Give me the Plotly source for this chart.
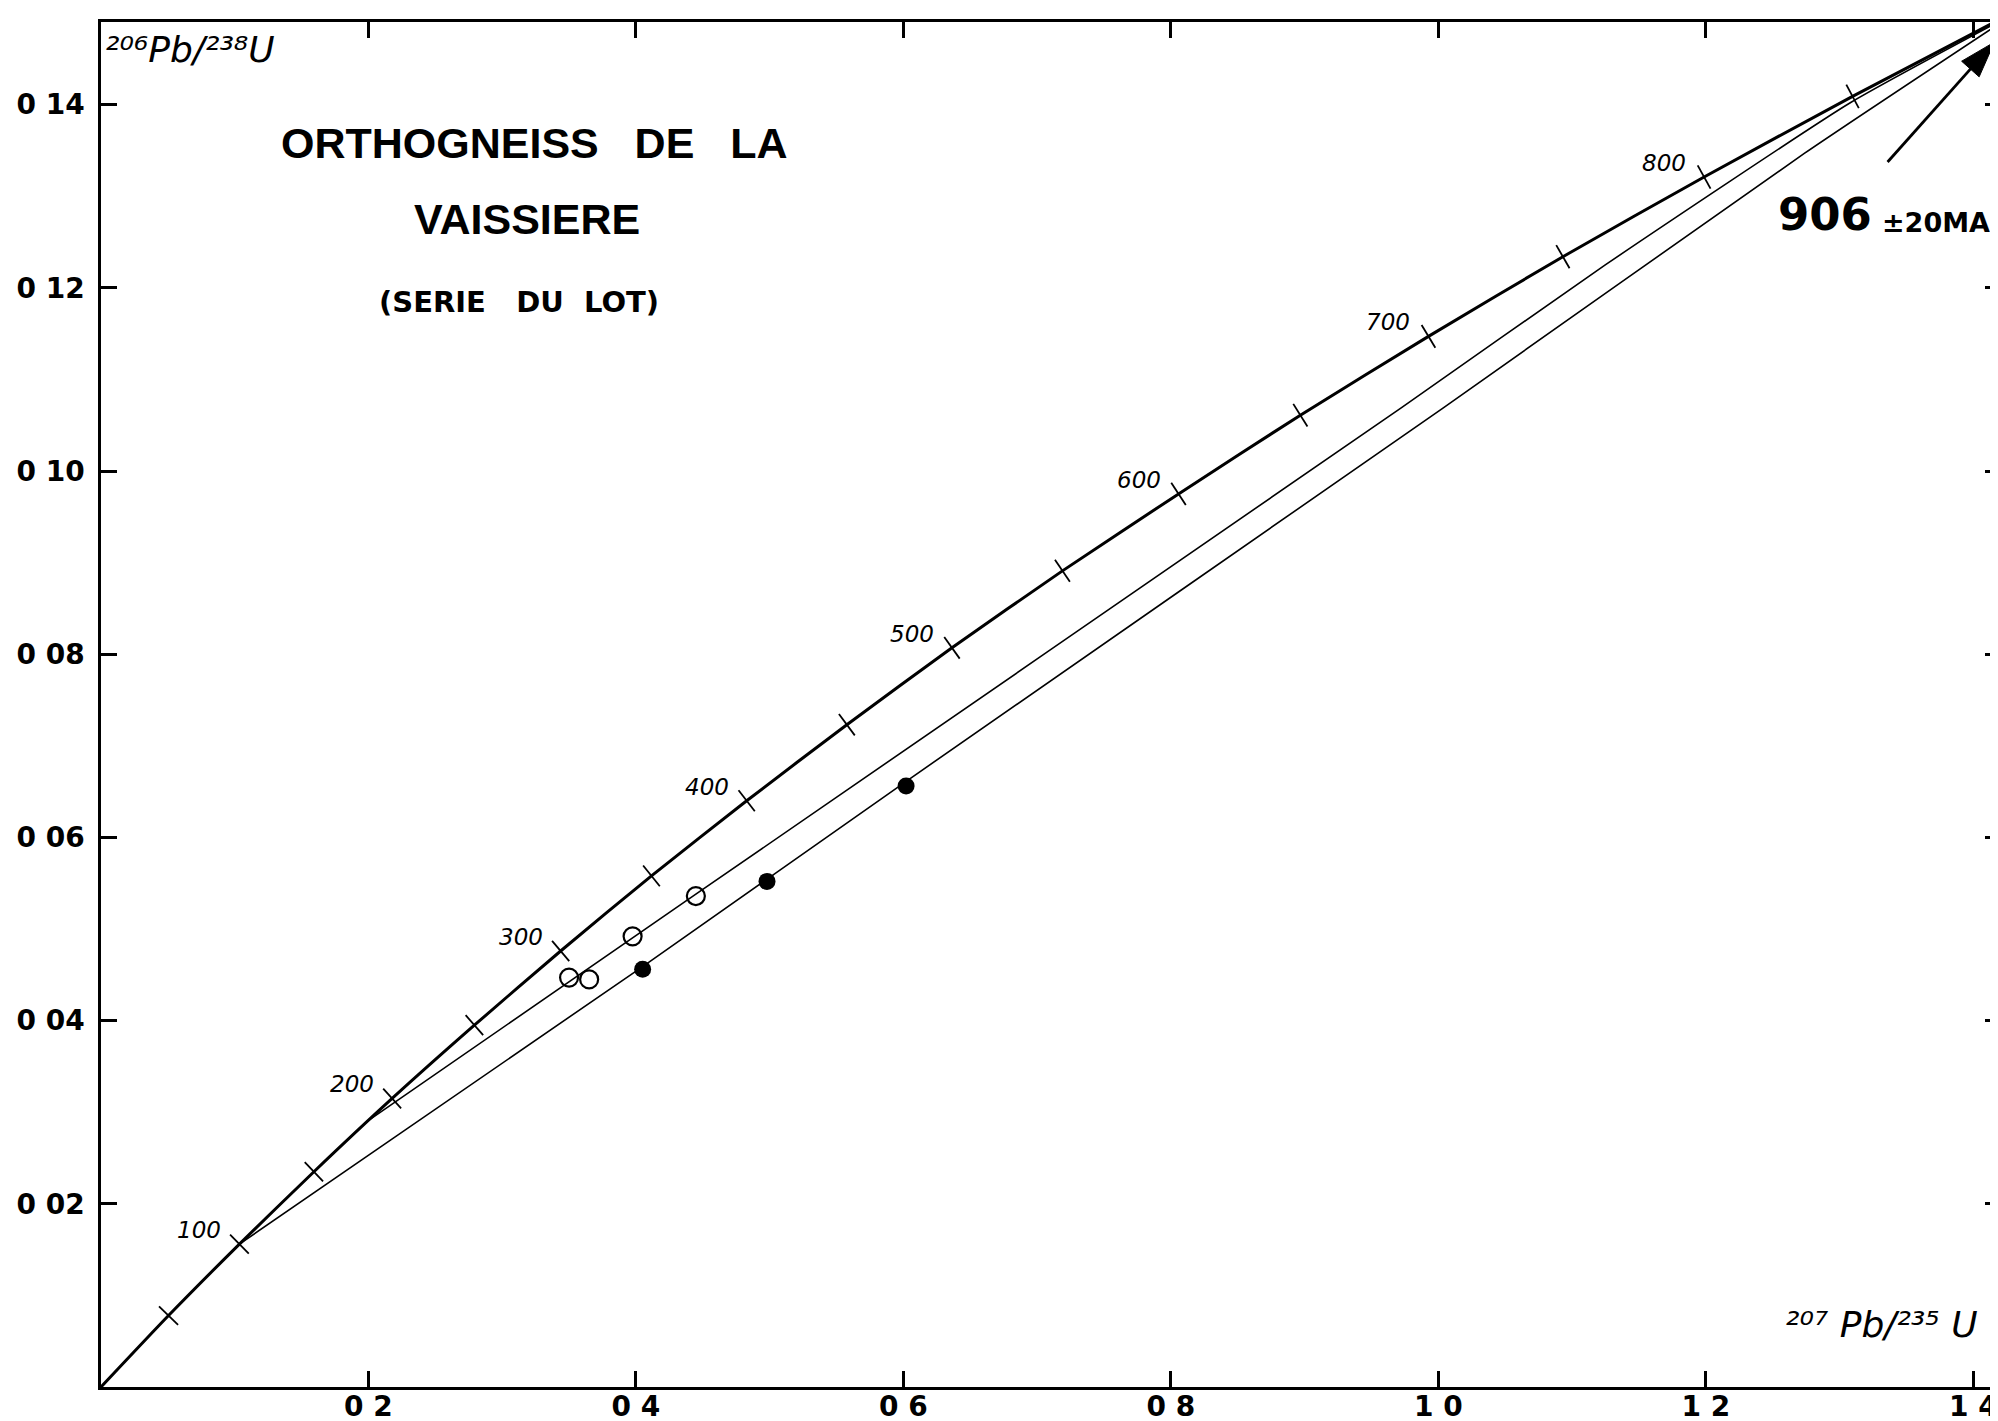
import math
import plotly.graph_objects as go

# ---------------- data ----------------
# Concordia curve: ages (Ma) and the ratios at each 50 Ma tick
conc_age = [0, 50, 100, 150, 200, 250, 300, 350, 400, 450, 500, 550, 600,
            650, 700, 750, 800, 850, 900]
conc_x = [0.0, 0.0505, 0.1035, 0.1592, 0.2177, 0.2792, 0.3437, 0.4116, 0.4828,
          0.5577, 0.6363, 0.7189, 0.8057, 0.8968, 0.9926, 1.0931, 1.1987,
          1.3097, 1.4262]
conc_y = [0.0, 0.0078, 0.0156, 0.0235, 0.0315, 0.0395, 0.0476, 0.0558, 0.0640,
          0.0723, 0.0807, 0.0891, 0.0975, 0.1061, 0.1147, 0.1234, 0.1321,
          0.1409, 0.1498]
tick_ages = [50, 100, 150, 200, 250, 300, 350, 400, 450, 500, 550, 600, 650,
             700, 750, 800, 850]
label_ages = [100, 200, 300, 400, 500, 600, 700, 800]

# Discordia through the open circles
mid_x = [0.199, 0.4448, 0.9722, 1.1248, 1.308, 1.421]
mid_y = [0.0290, 0.0538, 0.1069, 0.1225, 0.1402, 0.1492]
# Discordia through the filled circles
low_x = [0.1035, 0.405, 0.6018, 1.0037, 1.2739, 1.421]
low_y = [0.0156, 0.0459, 0.0661, 0.1069, 0.1347, 0.1490]

# Analysed fractions
open_x = [0.350, 0.365, 0.3975, 0.4448]
open_y = [0.0447, 0.0445, 0.0492, 0.0536]
fill_x = [0.405, 0.498, 0.602]
fill_y = [0.0456, 0.0552, 0.0656]

# Arrow pointing at the upper intercept (tail, tip)
arrow_x = [1.3359, 1.4158]
arrow_y = [0.13373, 0.14683]

# Axes
x_tickvals = [0.2, 0.4, 0.6, 0.8, 1.0, 1.2, 1.4]
x_ticktext = ["0 2", "0 4", "0 6", "0 8", "1 0", "1 2", "1 4"]
y_tickvals = [0.02, 0.04, 0.06, 0.08, 0.10, 0.12, 0.14]
y_ticktext = ["0 02", "0 04", "0 06", "0 08", "0 10", "0 12", "0 14"]
x_range = [0.0, 1.4207]
y_range = [0.0, 0.14902]

y_title = "\u00b2\u2070\u2076Pb/\u00b2\u00b3\u2078U"
x_title = "\u00b2\u2070\u2077 Pb/\u00b2\u00b3\u2075 U"
title_lines = ["ORTHOGNEISS\u00a0\u00a0\u00a0DE\u00a0\u00a0\u00a0LA", "VAISSIERE",
               "(SERIE\u00a0\u00a0\u00a0DU\u00a0\u00a0LOT)"]
age_text = "906"
age_err = "\u00b120MA"

# ---------------- layout geometry ----------------
W, H = 1998, 1421
ML, MR, MT, MB = 93, 2, 14, 42
pw, ph = W - ML - MR, H - MT - MB
pxx = pw / (x_range[1] - x_range[0])
pxy = ph / (y_range[1] - y_range[0])

fig = go.Figure()

# concordia
fig.add_trace(go.Scatter(x=conc_x, y=conc_y, mode="lines",
                         line=dict(color="black", width=3, shape="spline", smoothing=0.6),
                         hoverinfo="skip", showlegend=False))
# discordia lines
fig.add_trace(go.Scatter(x=mid_x, y=mid_y, mode="lines",
                         line=dict(color="black", width=1.6, shape="spline", smoothing=0.5),
                         hoverinfo="skip", showlegend=False))
fig.add_trace(go.Scatter(x=low_x, y=low_y, mode="lines",
                         line=dict(color="black", width=1.6, shape="spline", smoothing=0.5),
                         hoverinfo="skip", showlegend=False))

# tick marks on the concordia (perpendicular to the curve)
tx, ty, tang = [], [], []
for a in tick_ages:
    i = conc_age.index(a)
    dxp = (conc_x[i + 1] - conc_x[i - 1]) * pxx
    dyp = (conc_y[i + 1] - conc_y[i - 1]) * pxy
    alpha = math.degrees(math.atan2(dyp, dxp))
    tx.append(conc_x[i])
    ty.append(conc_y[i])
    tang.append(-alpha)
fig.add_trace(go.Scatter(x=tx, y=ty, mode="markers",
                         marker=dict(symbol="line-ns", size=19, angle=tang, color="black",
                                     line=dict(color="black", width=1.8)),
                         hoverinfo="skip", showlegend=False))

# data points
fig.add_trace(go.Scatter(x=open_x, y=open_y, mode="markers",
                         marker=dict(symbol="circle-open", size=18, color="black",
                                     line=dict(color="black", width=2.2)),
                         showlegend=False))
fig.add_trace(go.Scatter(x=fill_x, y=fill_y, mode="markers",
                         marker=dict(symbol="circle", size=17, color="black"),
                         showlegend=False))

# arrow: shaft + head oriented along the shaft
fig.add_trace(go.Scatter(x=arrow_x, y=arrow_y, mode="lines+markers",
                         line=dict(color="black", width=2.8),
                         marker=dict(symbol=["circle", "arrow"], size=[0, 38],
                                     angleref="previous", color="black", opacity=1,
                                     line=dict(color="black", width=1)),
                         cliponaxis=False, hoverinfo="skip", showlegend=False))

annotations = []
for a in label_ages:
    i = conc_age.index(a)
    annotations.append(dict(x=conc_x[i], y=conc_y[i], xref="x", yref="y",
                            text=str(a), showarrow=False, xshift=-40, yshift=14,
                            xanchor="center", yanchor="middle",
                            font=dict(family="DejaVu Sans", size=23, color="black",
                                      style="italic")))

# title block
annotations.append(dict(x=0.2279, y=0.9115, xref="paper", yref="paper",
                        xanchor="center", yanchor="middle",
                        text=title_lines[0], showarrow=False,
                        font=dict(family="Liberation Sans", size=43, color="black", weight="bold")))
annotations.append(dict(x=0.2240, y=0.8555, xref="paper", yref="paper",
                        xanchor="center", yanchor="middle",
                        text=title_lines[1], showarrow=False,
                        font=dict(family="Liberation Sans", size=43, color="black", weight="bold")))
annotations.append(dict(x=0.2199, y=0.7946, xref="paper", yref="paper",
                        xanchor="center", yanchor="middle",
                        text=title_lines[2], showarrow=False,
                        font=dict(family="DejaVu Sans", size=29, color="black", weight="bold")))

# axis titles inside the frame
annotations.append(dict(x=0.001, y=0.980, xref="paper", yref="paper",
                        xanchor="left", yanchor="middle",
                        text=y_title, showarrow=False,
                        font=dict(family="DejaVu Sans", size=36, color="black", style="italic")))
annotations.append(dict(x=0.989, y=0.046, xref="paper", yref="paper",
                        xanchor="right", yanchor="middle",
                        text=x_title, showarrow=False,
                        font=dict(family="DejaVu Sans", size=36, color="black", style="italic")))

# age result
annotations.append(dict(x=0.8815, y=0.8590, xref="paper", yref="paper",
                        xanchor="left", yanchor="middle", text=age_text, showarrow=False,
                        font=dict(family="DejaVu Sans", size=45, color="black", weight="bold")))
annotations.append(dict(x=0.9364, y=0.8530, xref="paper", yref="paper",
                        xanchor="left", yanchor="middle", text=age_err, showarrow=False,
                        font=dict(family="DejaVu Sans", size=27, color="black", weight="bold")))

axis_common = dict(showline=True, linecolor="black", linewidth=2.5, mirror="ticks",
                   ticks="inside", ticklen=16, tickwidth=2.5, tickcolor="black",
                   showgrid=False, zeroline=False)

fig.update_layout(
    width=W, height=H,
    margin=dict(l=ML, r=MR, t=MT, b=MB),
    paper_bgcolor="white", plot_bgcolor="white",
    xaxis=dict(range=x_range, tickvals=x_tickvals, ticktext=x_ticktext,
               ticklabelstandoff=-7,
               tickfont=dict(family="DejaVu Sans", size=28, color="black", weight="bold"),
               **axis_common),
    yaxis=dict(range=y_range, tickvals=y_tickvals, ticktext=y_ticktext,
               ticklabelstandoff=8,
               tickfont=dict(family="DejaVu Sans", size=28, color="black", weight="bold"),
               **axis_common),
    annotations=annotations,
    showlegend=False,
)

fig.write_html("out.html")
